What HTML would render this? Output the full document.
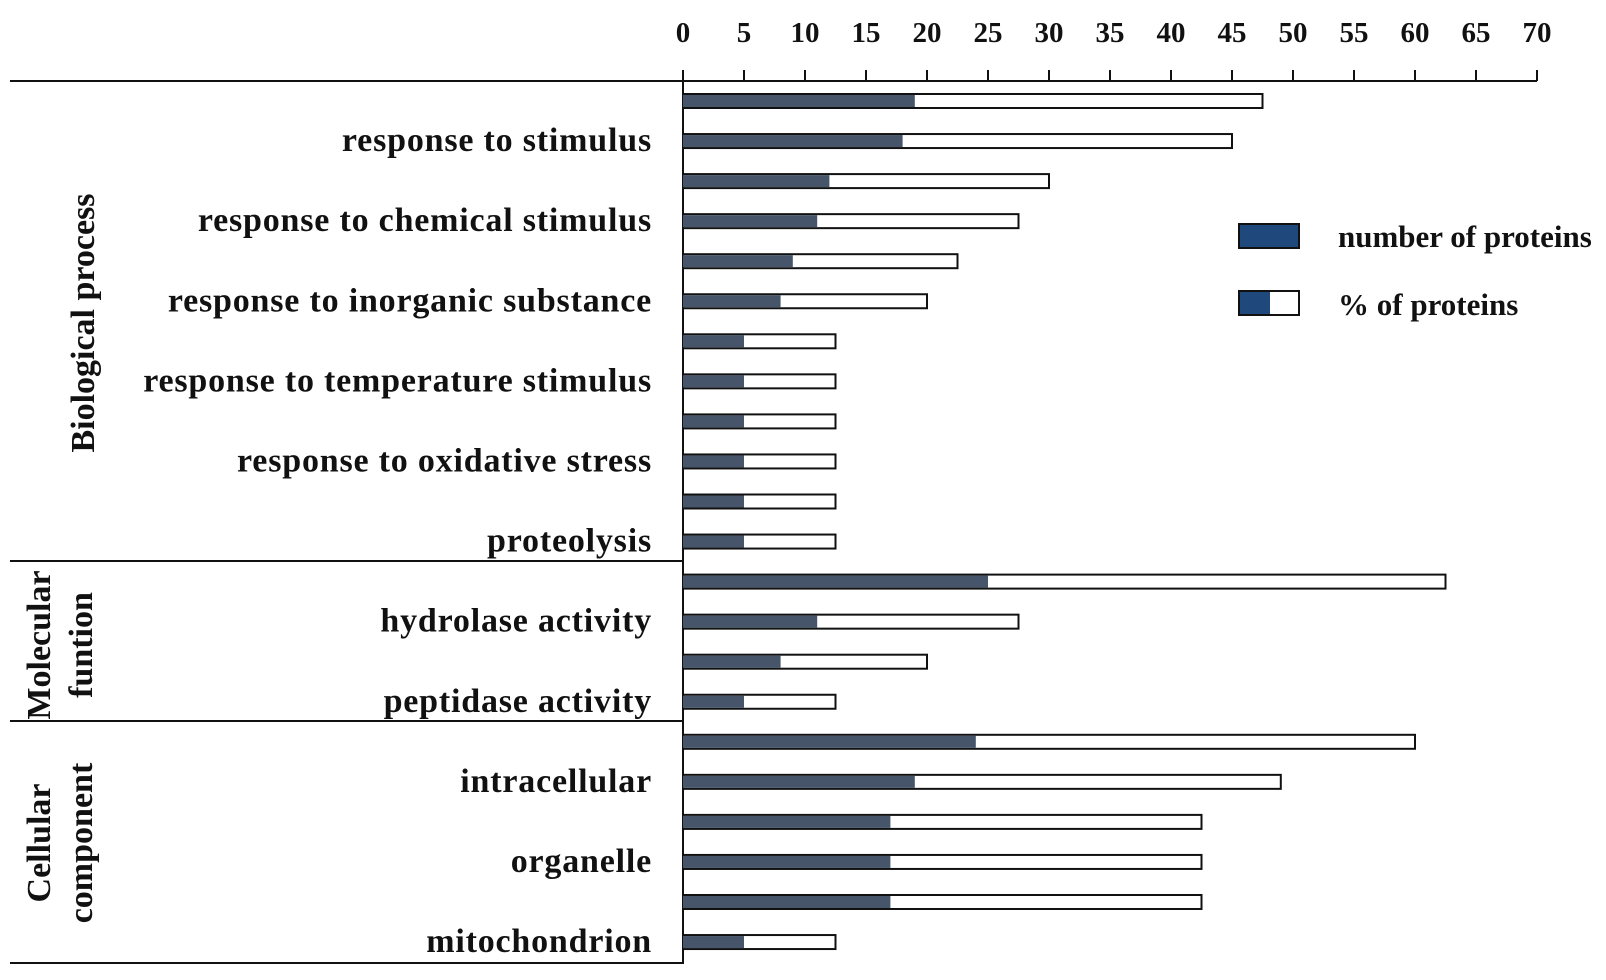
<!DOCTYPE html>
<html><head><meta charset="utf-8"><style>
body{margin:0;background:#fff}
svg text{font-family:"Liberation Serif",serif;font-weight:bold;fill:#111}
</style></head><body>
<svg id="c" width="1606" height="975">
<g id="axes"></g><g id="bars"></g>
<g>
<rect x="1239" y="224" width="60" height="24" fill="#1f497d" stroke="#111" stroke-width="2"/>
<text x="1338" y="247" font-size="31">number of proteins</text>
<rect x="1239" y="291" width="60" height="24" fill="#fff" stroke="#111" stroke-width="2"/>
<rect x="1240" y="292" width="30" height="22" fill="#1f497d"/>
<text x="1338" y="315" font-size="31">% of proteins</text>
</g>
<g>
<text transform="translate(94,323) rotate(-90)" text-anchor="middle" font-size="34">Biological process</text>
<text transform="translate(50,645) rotate(-90)" text-anchor="middle" font-size="34">Molecular</text>
<text transform="translate(92,645) rotate(-90)" text-anchor="middle" font-size="34">funtion</text>
<text transform="translate(50,843) rotate(-90)" text-anchor="middle" font-size="34">Cellular</text>
<text transform="translate(92,843) rotate(-90)" text-anchor="middle" font-size="34">component</text>
</g>
</svg>
<script>
const counts=[19,18,12,11,9,8,5,5,5,5,5,5,25,11,8,5,24,19,17,17,17,5];
const percents=[47.5,45,30,27.5,22.5,20,12.5,12.5,12.5,12.5,12.5,12.5,62.5,27.5,20,12.5,60,49,42.5,42.5,42.5,12.5];
const labels=["","response to stimulus","","response to chemical stimulus","","response to inorganic substance","","response to temperature stimulus","","response to oxidative stress","","proteolysis","","hydrolase activity","","peptidase activity","","intracellular","","organelle","","mitochondrion"];
const ticks=[0,5,10,15,20,25,30,35,40,45,50,55,60,65,70];
const NS="http://www.w3.org/2000/svg";
const x0=683,x1=1537,xmax=70;
const xs=v=>x0+(v/xmax)*(x1-x0);
const ys=i=>101+i*40.05;
function mk(t,a,p){const e=document.createElementNS(NS,t);for(const k in a)e.setAttribute(k,a[k]);p.appendChild(e);return e;}
const ax=document.getElementById('axes'),bg=document.getElementById('bars');
let l=mk('line',{x1:10,y1:81,x2:x1,y2:81,stroke:'#111','stroke-width':2},ax);


l=mk('line',{x1:x0,y1:80,x2:x0,y2:964,stroke:'#111','stroke-width':2},ax);


[561,721,963].forEach(y=>{const s=mk('line',{x1:10,y1:y,x2:x0,y2:y,stroke:'#111','stroke-width':2},ax);

});
ticks.forEach(t=>{const tl=mk('line',{x1:xs(t),y1:70,x2:xs(t),y2:81,stroke:'#111','stroke-width':2},ax);


const tx=mk('text',{x:xs(t),y:42,'text-anchor':'middle','font-size':29},ax);tx.textContent=t;

});
counts.forEach((c,i)=>{const y=ys(i);
const w=mk('rect',{x:xs(0),y:y-7,width:xs(percents[i])-xs(0),height:14,fill:'#fff',stroke:'#111','stroke-width':2},bg);


const d=mk('rect',{x:xs(0),y:y-6,width:xs(c)-xs(0),height:12,fill:'#465569'},bg);


if(labels[i]){const tx=mk('text',{x:652,y:y+10,'text-anchor':'end','font-size':34,'letter-spacing':0.8},bg);tx.textContent=labels[i];

}
});
</script>
</body></html>
